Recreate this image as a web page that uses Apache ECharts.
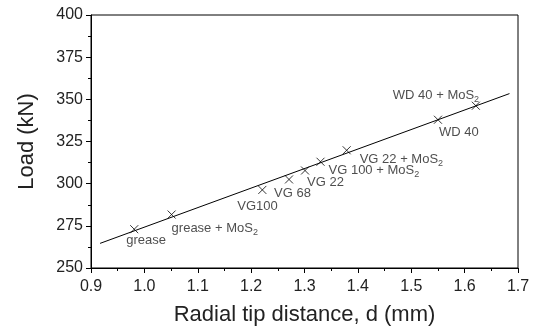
<!DOCTYPE html>
<html>
<head>
<meta charset="utf-8">
<script src="https://cdn.jsdelivr.net/npm/echarts@6/dist/echarts.min.js"></script>
<style>
  html, body { margin: 0; padding: 0; background: #fff; }
  #chart { width: 533px; height: 331px; }
</style>
</head>
<body>
<div id="chart"></div>
<script>
// measured points: radial tip distance (mm) vs load (kN)
const names = ["grease", "grease + MoS2", "VG100", "VG 68", "VG 22",
  "VG 100 + MoS2", "VG 22 + MoS2", "WD 40", "WD 40 + MoS2"];
const dist = [0.981, 1.051, 1.221, 1.271, 1.301, 1.330, 1.379, 1.550, 1.621];
const load = [273.0, 281.7, 296.3, 302.5, 307.8, 313.0, 319.8, 337.9, 346.2];
// fitted line end points
const fitX = [0.917, 1.684];
const fitY = [264.6, 353.4];

// label placement (px from the marker), kept apart from the data
const labelOffsets = [[-8, 11], [0, 14], [-25, 17], [-15, 14], [2, 12],
  [8, 9], [13, 9], [1, 13], [-83, -10]];

const font = "Liberation Sans, Arial, Helvetica, sans-serif";

const fmt = (s) => s.endsWith("MoS2")
  ? "{n|" + s.slice(0, -1) + "}{s|2}"
  : "{n|" + s + "}";

const pts = dist.map((d, i) => ({
  value: [d, load[i]],
  label: {
    show: true,
    position: "inside",
    align: "left",
    verticalAlign: "middle",
    offset: labelOffsets[i],
    formatter: fmt(names[i]),
    rich: {
      n: { fontFamily: font, fontSize: 13, color: "#222" },
      s: { fontFamily: font, fontSize: 9, color: "#222", padding: [8, 0, 0, 0] }
    }
  }
}));

const chart = echarts.init(document.getElementById("chart"));
chart.setOption({
  animation: false,
  grid: { left: 91, right: 15, top: 15, bottom: 59, show: true, borderColor: "#000", borderWidth: 1 },
  xAxis: {
    type: "value", min: 0.9, max: 1.7, interval: 0.1,
    name: "Radial tip distance, d (mm)", nameLocation: "middle", nameGap: 36,
    nameTextStyle: { fontFamily: font, fontSize: 22, color: "#222" },
    axisLine: { lineStyle: { color: "#000" } },
    axisTick: { length: 5, lineStyle: { color: "#000" } },
    minorTick: { show: true, splitNumber: 2, length: 3, lineStyle: { color: "#000" } },
    splitLine: { show: false },
    axisLabel: { fontFamily: font, fontSize: 16, color: "#222", margin: 11,
      formatter: (v) => v.toFixed(1) }
  },
  yAxis: {
    type: "value", min: 250, max: 400, interval: 25,
    name: "Load (kN)", nameLocation: "middle", nameGap: 53,
    nameTextStyle: { fontFamily: font, fontSize: 22, color: "#222" },
    axisLine: { show: true, lineStyle: { color: "#000" } },
    axisTick: { show: true, length: 5, lineStyle: { color: "#000" } },
    minorTick: { show: true, splitNumber: 2, length: 3, lineStyle: { color: "#000" } },
    splitLine: { show: false },
    axisLabel: { fontFamily: font, fontSize: 16, color: "#222", margin: 8 }
  },
  series: [
    {
      type: "line",
      data: fitX.map((x, i) => [x, fitY[i]]),
      symbol: "none",
      lineStyle: { color: "#000", width: 1 },
      silent: true
    },
    {
      type: "scatter",
      data: pts,
      symbol: "path://M0,0L10,10M10,0L0,10",
      symbolSize: 8,
      itemStyle: { color: "none", borderColor: "#000", borderWidth: 1 },
      z: 3
    }
  ]
});
</script>
</body>
</html>
